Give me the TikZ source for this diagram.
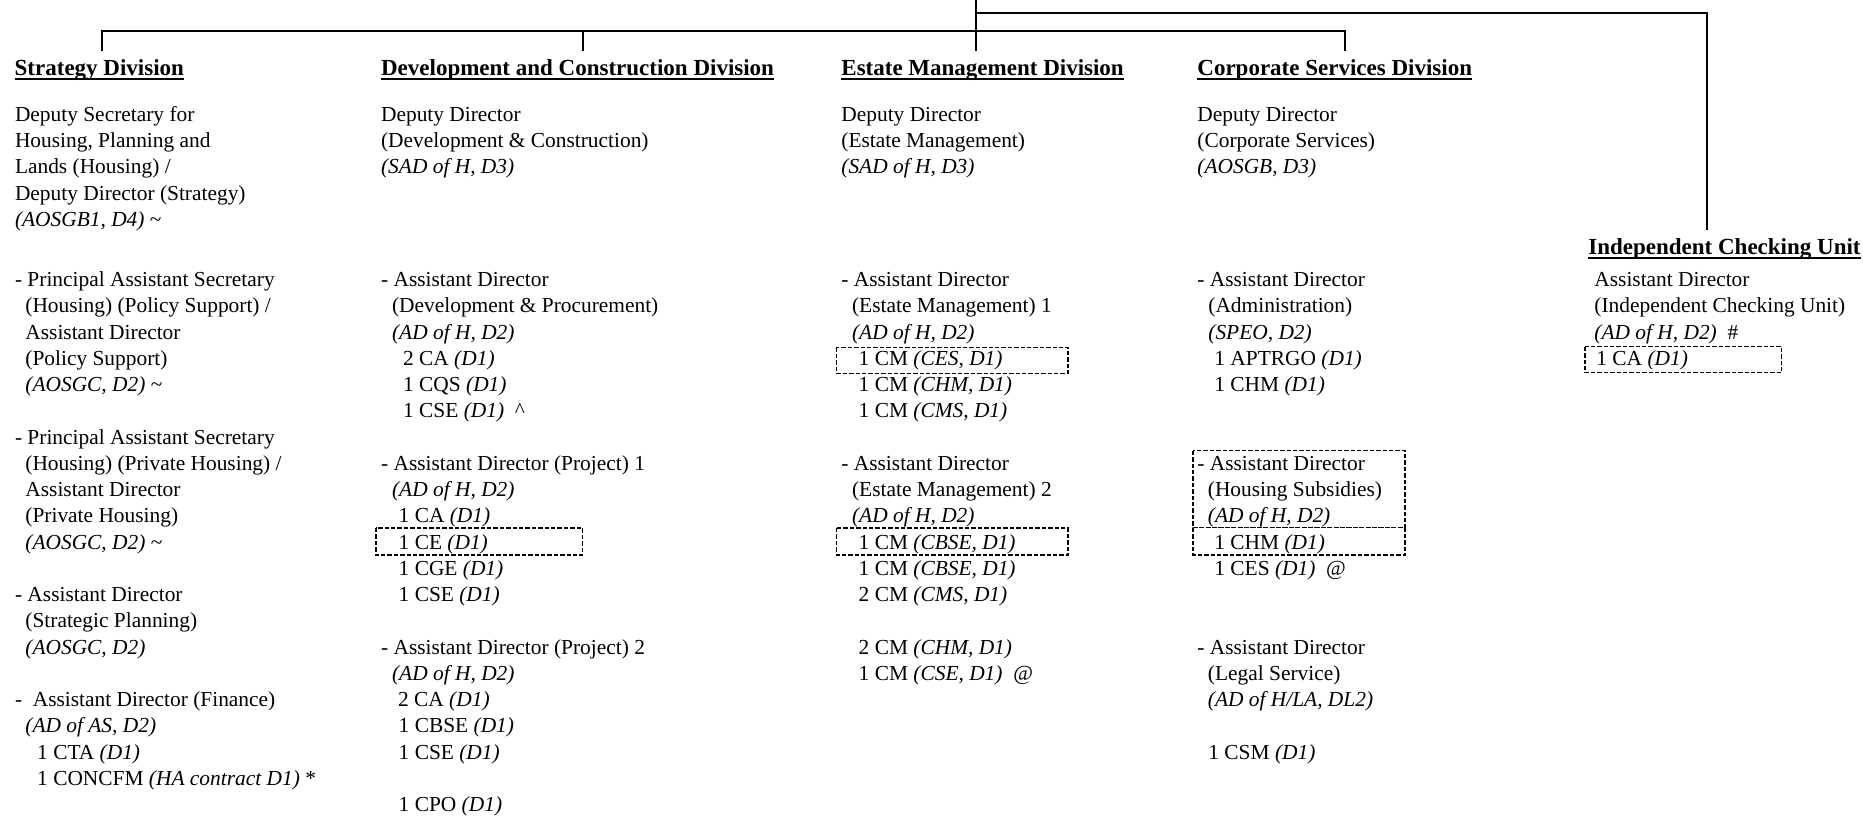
\documentclass[tikz,border=0pt]{standalone}
\usepackage{fontspec}
\setmainfont{Liberation Serif}
\usetikzlibrary{calc}
\newcommand{\grd}[1]{\textit{(#1)}}
\newcommand{\ulhead}[1]{\setbox0=\hbox{#1}\rlap{\rule[-2.5pt]{\wd0}{1pt}}\box0}
\tikzset{
  orgline/.style={line width=1pt},
  cellbox/.style={line width=0.75pt, dash pattern=on 2.2pt off 1pt},
  divhead/.style={font=\fontsize{11.5}{13}\selectfont\bfseries, anchor=base west,
                  inner xsep=0pt, inner ysep=3.8pt},
  post/.style={font=\fontsize{10.7}{13}\selectfont, anchor=base west, inner sep=0pt},
}

\begin{document}
\begin{tikzpicture}[x=0.5pt, y=-0.5pt]
    \useasboundingbox (0,0) rectangle (1863,815);

    \node[divhead] (strat)  at (14.3,75)  {\ulhead{Strategy Division}};
    \node[divhead] (devcon) at (380.7,75) {\ulhead{Development and Construction Division}};
    \node[divhead] (estate) at (841,75)   {\ulhead{Estate Management Division}};
    \node[divhead] (corp)   at (1197,75)  {\ulhead{Corporate Services Division}};
    \node[divhead] (icu)    at (1588,254) {\ulhead{Independent Checking Unit}};

    \coordinate (root)     at (975.7,0);
    \coordinate (st-drop)  at (101.7,31);
    \coordinate (dc-drop)  at (582.7,31);
    \coordinate (cs-drop)  at (1345,31);
    \coordinate (icu-drop) at (1707,12.7);

    \draw[orgline] (st-drop |- strat.north) -- (st-drop) -- (cs-drop) -- (cs-drop |- corp.north);
    \draw[orgline] (dc-drop) -- (dc-drop |- devcon.north);
    \draw[orgline] (root) -- (root |- estate.north);
    \draw[orgline] (root |- icu-drop) -- (icu-drop) -- (icu-drop |- icu.north);

    \foreach \j/\txt in {0/{Deputy Secretary for}, 1/{Housing, Planning and},
                         2/{Lands (Housing) /}, 3/{Deputy Director (Strategy)},
                         4/{\grd{AOSGB1, D4} \textasciitilde}}
      \node[post] (st-top-\j) at (14.6, {121.7+26.1*\j}) {\txt};

    \foreach \col/\xx/\ta/\tb/\tc in {
        dc/380.7/{Deputy Director}/{(Development \& Construction)}/{\grd{SAD of H, D3}},
        em/841/{Deputy Director}/{(Estate Management)}/{\grd{SAD of H, D3}},
        cs/1197/{Deputy Director}/{(Corporate Services)}/{\grd{AOSGB, D3}}} {
      \node[post] (\col-top-0) at (\xx,121.7) {\ta};
      \node[post] (\col-top-1) at (\xx,147.8) {\tb};
      \node[post] (\col-top-2) at (\xx,173.9) {\tc};
    }

    \foreach \k/\dx/\txt in {
        0/0/{- Principal Assistant Secretary}, 1/10.4/{(Housing) (Policy Support) /},
        2/10.4/{Assistant Director}, 3/10.4/{(Policy Support)},
        4/10.4/{\grd{AOSGC, D2} \textasciitilde},
        6/0/{- Principal Assistant Secretary}, 7/10.4/{(Housing) (Private Housing) /},
        8/10.4/{Assistant Director}, 9/10.4/{(Private Housing)},
        10/10.4/{\grd{AOSGC, D2} \textasciitilde},
        12/0/{- Assistant Director}, 13/10.4/{(Strategic Planning)},
        14/10.4/{\grd{AOSGC, D2}},
        16/0/{-\ \ Assistant Director (Finance)}, 17/10.4/{\grd{AD of AS, D2}},
        18/22.2/{1 CTA \grd{D1}}, 19/22.2/{1 CONCFM \grd{HA contract D1} *}}
      \node[post] (st-\k) at ({14.6+\dx}, {286.7+26.25*\k}) {\txt};

    \foreach \k/\dx/\txt in {
        0/0/{- Assistant Director}, 1/11/{(Development \& Procurement)},
        2/11/{\grd{AD of H, D2}}, 3/22/{2 CA \grd{D1}}, 4/22/{1 CQS \grd{D1}},
        5/22/{1 CSE \grd{D1}~~\textasciicircum},
        7/0/{- Assistant Director (Project) 1}, 8/11/{\grd{AD of H, D2}},
        9/17.6/{1 CA \grd{D1}}, 10/17.6/{1 CE \grd{D1}}, 11/17.6/{1 CGE \grd{D1}},
        12/17.6/{1 CSE \grd{D1}},
        14/0/{- Assistant Director (Project) 2}, 15/11/{\grd{AD of H, D2}},
        16/17/{2 CA \grd{D1}}, 17/17.6/{1 CBSE \grd{D1}}, 18/17.6/{1 CSE \grd{D1}},
        20/17.6/{1 CPO \grd{D1}}}
      \node[post] (dc-\k) at ({380.7+\dx}, {286.7+26.25*\k}) {\txt};

    \foreach \k/\dx/\txt in {
        0/0/{- Assistant Director}, 1/10.7/{(Estate Management) 1},
        2/10.7/{\grd{AD of H, D2}}, 3/17.3/{1 CM \grd{CES, D1}},
        4/17.3/{1 CM \grd{CHM, D1}}, 5/17.3/{1 CM \grd{CMS, D1}},
        7/0/{- Assistant Director}, 8/10.7/{(Estate Management) 2},
        9/10.7/{\grd{AD of H, D2}}, 10/17.3/{1 CM \grd{CBSE, D1}},
        11/17.3/{1 CM \grd{CBSE, D1}}, 12/17.3/{2 CM \grd{CMS, D1}},
        14/17.3/{2 CM \grd{CHM, D1}}, 15/17.3/{1 CM \grd{CSE, D1}~~@}}
      \node[post] (em-\k) at ({841+\dx}, {286.7+26.25*\k}) {\txt};

    \foreach \k/\dx/\txt in {
        0/0/{- Assistant Director}, 1/11/{(Administration)}, 2/11/{\grd{SPEO, D2}},
        3/17/{1 APTRGO \grd{D1}}, 4/17/{1 CHM \grd{D1}},
        7/0/{- Assistant Director}, 8/10.5/{(Housing Subsidies)},
        9/10.5/{\grd{AD of H, D2}}, 10/17/{1 CHM \grd{D1}}, 11/17/{1 CES \grd{D1}~~@},
        14/0/{- Assistant Director}, 15/10.5/{(Legal Service)},
        16/10.5/{\grd{AD of H/LA, DL2}}, 18/11/{1 CSM \grd{D1}}}
      \node[post] (cs-\k) at ({1197+\dx}, {286.7+26.25*\k}) {\txt};

    \foreach \k/\dx/\txt in {
        0/0/{Assistant Director}, 1/0/{(Independent Checking Unit)},
        2/0/{\grd{AD of H, D2}~~\#}, 3/2/{1 CA \grd{D1}}}
      \node[post] (icu-\k) at ({1594+\dx}, {286.7+26.25*\k}) {\txt};

    \draw[cellbox] (376,528) rectangle (582.7,555);
    \draw[cellbox] (836.7,347.3) rectangle (1068,373.3);
    \draw[cellbox] (836.7,528) rectangle (1068,555);
    \draw[cellbox] (1193,450.7) rectangle (1405,527.7);
    \draw[cellbox] (1193,527.7) rectangle (1405,555);
    \draw[cellbox] (1585,346.7) rectangle (1781.7,372.7);
\end{tikzpicture}
\end{document}
